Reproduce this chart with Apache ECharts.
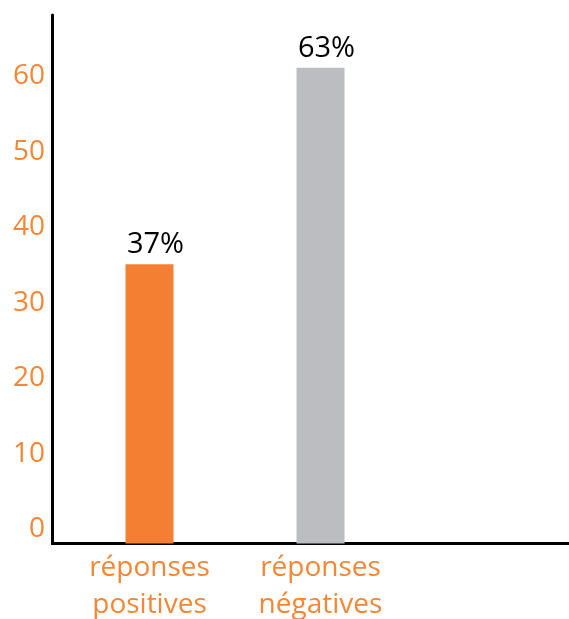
<!DOCTYPE html>
<html>
<head>
<meta charset="utf-8">
<script src="https://cdn.jsdelivr.net/npm/echarts@6/dist/echarts.min.js"></script>
<style>
  html, body { margin: 0; padding: 0; background: #fff; }
  #chart { width: 569px; height: 619px; }
</style>
</head>
<body>
<div id="chart"></div>
<script>
  // données
  const categories = ['réponses\npositives', 'réponses\nnégatives', ''];
  const values = [37, 63, null];
  const valueLabels = ['37%', '63%', ''];
  const barColors = ['#F47F33', '#BCBDC0', '#BCBDC0'];

  const orange = '#F58634';
  const font = 'Open Sans';

  const myChart = echarts.init(document.getElementById('chart'));

  const option = {
    animation: false,
    grid: {
      left: 64,
      right: -8,
      top: 15,
      bottom: 75.5,
      outerBoundsMode: 'none'
    },
    xAxis: {
      type: 'category',
      data: categories,
      axisLine: { lineStyle: { color: '#000', width: 3 } },
      axisTick: { show: false },
      axisLabel: {
        color: orange,
        fontFamily: font,
        fontSize: 28,
        lineHeight: 37,
        margin: 6,
        interval: 0
      }
    },
    yAxis: {
      type: 'value',
      min: 0,
      max: 70,
      interval: 10,
      offset: 12,
      axisLine: { show: true, lineStyle: { color: '#000', width: 3 } },
      axisTick: { show: false },
      splitLine: { show: false },
      axisLabel: {
        color: orange,
        fontFamily: font,
        fontSize: 28,
        margin: 7,
        verticalAlign: 'bottom',
        showMaxLabel: false
      }
    },
    series: [
      {
        type: 'bar',
        barWidth: 48,
        data: values.map((v, i) => ({ value: v, itemStyle: { color: barColors[i] } })),
        label: {
          show: true,
          position: 'top',
          distance: 5,
          offset: [6, 0],
          color: '#000',
          fontFamily: font,
          fontSize: 29,
          formatter: p => valueLabels[p.dataIndex]
        }
      }
    ],
    graphic: [
      {
        type: 'line',
        shape: { x1: 51, y1: 543.5, x2: 66, y2: 543.5 },
        style: { stroke: '#000', lineWidth: 3 }
      }
    ]
  };

  myChart.setOption(option);
</script>
</body>
</html>
